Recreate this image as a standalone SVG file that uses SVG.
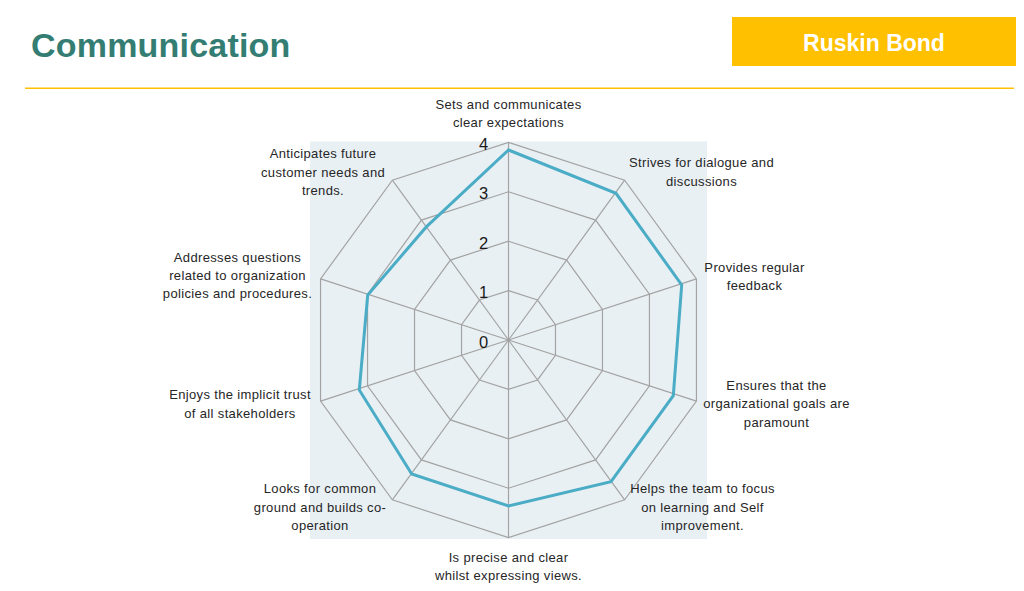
<svg xmlns="http://www.w3.org/2000/svg" width="1024" height="591" viewBox="0 0 1024 591">
<style>
.lbl{font-family:"Liberation Sans",Arial,sans-serif;font-size:13px;letter-spacing:0.35px;fill:#262626;text-anchor:middle}
.num{font-family:"Liberation Sans",Arial,sans-serif;font-size:16.5px;fill:#1a1a1a;text-anchor:middle}
.grid{fill:none;stroke:#a3a3a3;stroke-width:1.2}
.data{fill:none;stroke:#4BACC6;stroke-width:3;stroke-linejoin:miter}
</style>
<rect width="1024" height="591" fill="#ffffff"/>
<g id="header">
<text x="31" y="57" font-family="Liberation Sans,Arial,sans-serif" font-weight="bold" font-size="34" letter-spacing="0.2" fill="#347D73">Communication</text>
<rect x="732" y="17" width="284" height="49" fill="#FFC000"/>
<text x="874" y="51" font-family="Liberation Sans,Arial,sans-serif" font-weight="bold" font-size="23" fill="#ffffff" text-anchor="middle">Ruskin Bond</text>
<line x1="25" y1="88.3" x2="1014" y2="88.3" stroke="#FFC000" stroke-width="1.6"/>
</g>
<g id="chart-area">
<rect x="310" y="141.5" width="397" height="397.5" fill="#E9F0F4"/>
</g>
<g id="grid">
<polygon class="grid" points="508.5,142.4 624.65,180.14 696.44,278.94 696.44,401.06 624.65,499.86 508.5,537.6 392.35,499.86 320.56,401.06 320.56,278.94 392.35,180.14"/>
<polygon class="grid" points="508.5,191.8 595.61,220.11 649.45,294.21 649.45,385.79 595.61,459.89 508.5,488.2 421.39,459.89 367.55,385.79 367.55,294.21 421.39,220.11"/>
<polygon class="grid" points="508.5,241.2 566.57,260.07 602.47,309.47 602.47,370.53 566.57,419.93 508.5,438.8 450.43,419.93 414.53,370.53 414.53,309.47 450.43,260.07"/>
<polygon class="grid" points="508.5,290.6 537.54,300.04 555.48,324.74 555.48,355.26 537.54,379.96 508.5,389.4 479.46,379.96 461.52,355.26 461.52,324.74 479.46,300.04"/>
</g>
<g id="connectors">
<line class="grid" x1="508.5" y1="340" x2="508.5" y2="142.4"/>
<line class="grid" x1="508.5" y1="340" x2="624.65" y2="180.14"/>
<line class="grid" x1="508.5" y1="340" x2="696.44" y2="278.94"/>
<line class="grid" x1="508.5" y1="340" x2="696.44" y2="401.06"/>
<line class="grid" x1="508.5" y1="340" x2="624.65" y2="499.86"/>
<line class="grid" x1="508.5" y1="340" x2="508.5" y2="537.6"/>
<line class="grid" x1="508.5" y1="340" x2="392.35" y2="499.86"/>
<line class="grid" x1="508.5" y1="340" x2="320.56" y2="401.06"/>
<line class="grid" x1="508.5" y1="340" x2="320.56" y2="278.94"/>
<line class="grid" x1="508.5" y1="340" x2="392.35" y2="180.14"/>
</g>
<g id="series">
<polygon class="data" points="508.5,150 616,193.3 681.7,285 673.3,395.7 611,481.7 508.5,506 411.7,474 359.3,390 367.7,295 426.3,226.9"/>
</g>
<g id="scale">
<text class="num" x="483.5" y="149.5">4</text>
<text class="num" x="483.5" y="198.5">3</text>
<text class="num" x="483.5" y="248.5">2</text>
<text class="num" x="483.5" y="298">1</text>
<text class="num" x="483.5" y="347.5">0</text>
</g>
<g id="label-0"><text class="lbl" x="508.5" y="108.5">Sets and communicates</text><text class="lbl" x="508.5" y="126.8">clear expectations</text></g>
<g id="label-1"><text class="lbl" x="701.5" y="167.3">Strives for dialogue and</text><text class="lbl" x="701.5" y="185.7">discussions</text></g>
<g id="label-2"><text class="lbl" x="754.5" y="271.7">Provides regular</text><text class="lbl" x="754.5" y="290">feedback</text></g>
<g id="label-3"><text class="lbl" x="776.5" y="390">Ensures that the</text><text class="lbl" x="776.5" y="408.3">organizational goals are</text><text class="lbl" x="776.5" y="426.7">paramount</text></g>
<g id="label-4"><text class="lbl" x="702.5" y="493.3">Helps the team to focus</text><text class="lbl" x="702.5" y="511.7">on learning and Self</text><text class="lbl" x="702.5" y="530">improvement.</text></g>
<g id="label-5"><text class="lbl" x="508.5" y="561.7">Is precise and clear</text><text class="lbl" x="508.5" y="580">whilst expressing views.</text></g>
<g id="label-6"><text class="lbl" x="320" y="493.3">Looks for common</text><text class="lbl" x="320" y="511.7">ground and builds co-</text><text class="lbl" x="320" y="530">operation</text></g>
<g id="label-7"><text class="lbl" x="240" y="399.3">Enjoys the implicit trust</text><text class="lbl" x="240" y="417.7">of all stakeholders</text></g>
<g id="label-8"><text class="lbl" x="237.5" y="261.7">Addresses questions</text><text class="lbl" x="237.5" y="280">related to organization</text><text class="lbl" x="237.5" y="298.3">policies and procedures.</text></g>
<g id="label-9"><text class="lbl" x="323" y="158.3">Anticipates future</text><text class="lbl" x="323" y="176.7">customer needs and</text><text class="lbl" x="323" y="195">trends.</text></g>
</svg>
